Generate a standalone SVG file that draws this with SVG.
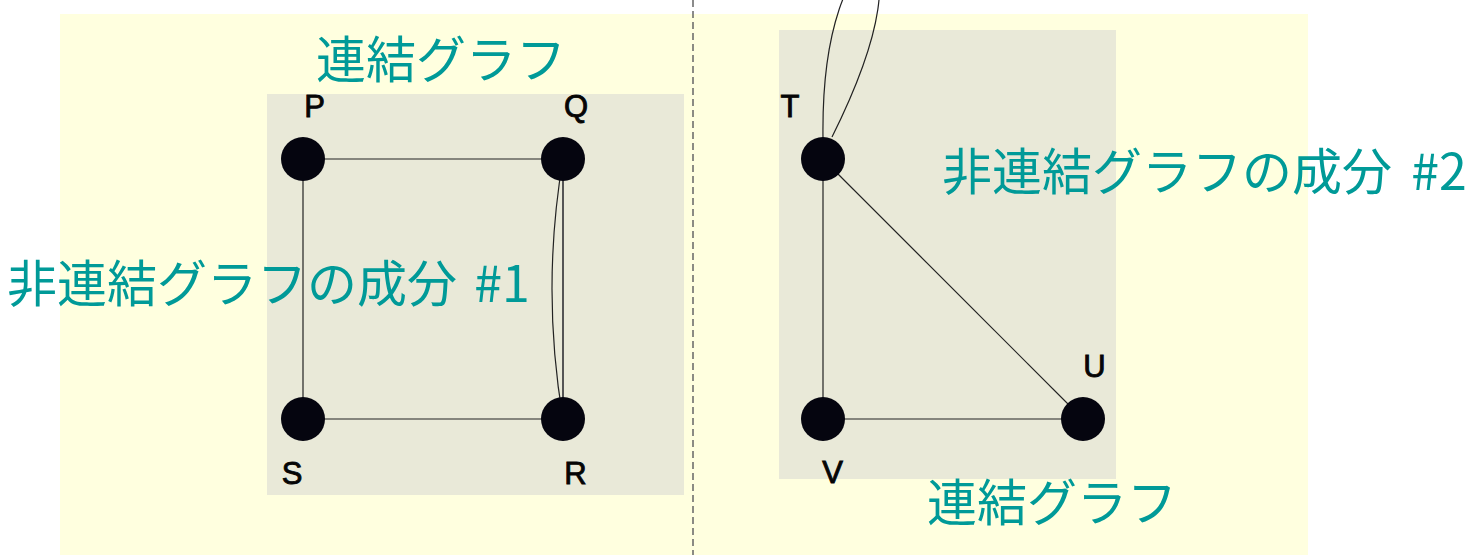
<svg xmlns="http://www.w3.org/2000/svg" width="1468" height="555" viewBox="0 0 1468 555">
<style>
.bg{fill:#ffffdf}
.cluster{fill:#e9e9d8}
.title{font-family:"Noto Sans CJK JP","Noto Sans",sans-serif;font-size:50px;fill:#009a98}
.lbl{font-family:"Liberation Sans",Arial,sans-serif;font-size:31px;fill:#050505;stroke:#050505;stroke-width:0.9;text-anchor:middle}
.node{fill:#05050f}
.edge{fill:none;stroke:#222;stroke-width:1.2}
.sep{stroke:#666;stroke-width:1.5;stroke-dasharray:7 4}
</style>
<rect class="bg" x="60" y="14" width="1248" height="541"/>
<line class="sep" x1="693" y1="0" x2="693" y2="555"/>
<g id="cluster1">
<rect class="cluster" x="267" y="94" width="417" height="401"/>
</g>
<g id="cluster2">
<rect class="cluster" x="779" y="30" width="337" height="449"/>
</g>
<text class="title" x="316" y="78">連結グラフ</text>
<text class="title" x="7" y="302">非連結グラフの成分<tspan dx="6"> #1</tspan></text>
<text class="title" x="942" y="190">非連結グラフの成分<tspan dx="8"> #2</tspan></text>
<text class="title" x="927" y="521">連結グラフ</text>
<g id="edges">
<line class="edge" x1="303" y1="159" x2="563" y2="159"/>
<line class="edge" x1="303" y1="159" x2="303" y2="419"/>
<line class="edge" x1="303" y1="419" x2="563" y2="419"/>
<line class="edge" x1="563" y1="159" x2="563" y2="419" style="stroke:#555;stroke-width:2"/>
<path class="edge" d="M563,159 Q541,289 563,419"/>
<line class="edge" x1="823" y1="159" x2="823" y2="419"/>
<line class="edge" x1="823" y1="159" x2="1083" y2="419"/>
<line class="edge" x1="823" y1="419" x2="1083" y2="419"/>
<path class="edge" d="M823,138 C820,-90 945,-90 832,137"/>
</g>
<g id="node-P"><circle class="node" cx="303" cy="159" r="22"/><text class="lbl" x="314.5" y="117">P</text></g>
<g id="node-Q"><circle class="node" cx="563" cy="159" r="22"/><text class="lbl" x="576" y="117">Q</text></g>
<g id="node-R"><circle class="node" cx="563" cy="419" r="22"/><text class="lbl" x="575.5" y="484">R</text></g>
<g id="node-S"><circle class="node" cx="303" cy="419" r="22"/><text class="lbl" x="292" y="484">S</text></g>
<g id="node-T"><circle class="node" cx="823" cy="159" r="22"/><text class="lbl" x="790" y="117">T</text></g>
<g id="node-U"><circle class="node" cx="1083" cy="419" r="22"/><text class="lbl" x="1094.5" y="377">U</text></g>
<g id="node-V"><circle class="node" cx="823" cy="419" r="22"/><text class="lbl" x="832.5" y="483">V</text></g>
</svg>
